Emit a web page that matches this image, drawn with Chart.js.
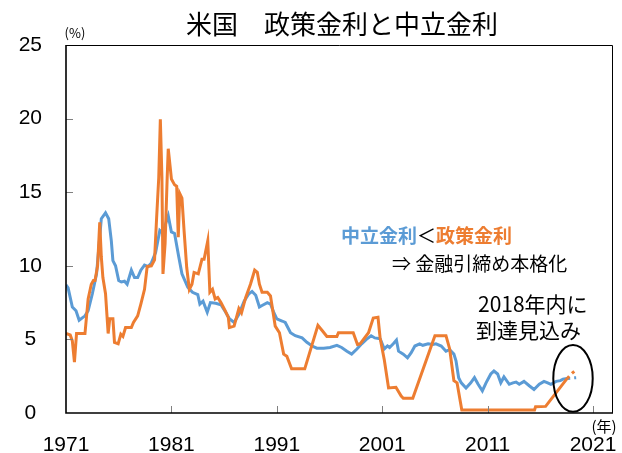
<!DOCTYPE html>
<html>
<head>
<meta charset="utf-8">
<script src="https://cdn.jsdelivr.net/npm/chart.js@4/dist/chart.umd.min.js"></script>
<style>
html,body{margin:0;padding:0;background:#fff;}
#wrap{width:622px;height:453px;position:relative;}
</style>
</head>
<body>
<div id="wrap"><canvas id="c"></canvas></div>
<script>
// ---- data ----
const neutralYears = [1971.0,1971.2,1971.6,1971.95,1972.25,1972.8,1973.1,1973.5,1973.9,1974.35,1974.75,1975.05,1975.3,1975.45,1975.7,1976.0,1976.25,1976.55,1976.8,1977.2,1977.5,1977.8,1978.1,1978.45,1978.8,1979.1,1979.5,1979.9,1980.2,1980.45,1980.7,1981.0,1981.3,1981.7,1982.0,1982.55,1983.0,1983.5,1983.7,1984.0,1984.4,1984.7,1985.2,1985.7,1986.15,1986.5,1986.95,1987.4,1987.9,1988.35,1988.65,1989.0,1989.35,1989.6,1990.1,1990.4,1990.7,1991.0,1991.5,1991.8,1992.3,1992.75,1993.4,1993.85,1994.35,1994.8,1995.45,1996.05,1996.7,1997.15,1997.65,1998.1,1998.6,1999.05,1999.5,1999.95,2000.3,2000.8,2001.2,2001.5,2001.7,2002.05,2002.35,2002.55,2003.0,2003.4,2003.75,2004.1,2004.55,2004.85,2005.35,2005.8,2006.1,2006.6,2007.05,2007.4,2007.8,2008.0,2008.25,2008.5,2008.95,2009.4,2009.75,2010.1,2010.5,2010.85,2011.3,2011.6,2011.95,2012.25,2012.55,2013.05,2013.4,2013.7,2014.0,2014.45,2014.95,2015.4,2015.9,2016.35,2016.7,2017.0,2017.5,2017.9,2018.15,2018.55];
const neutralRate = [8.7,8.5,7.2,6.95,6.3,6.6,6.95,8.1,9.45,13.2,13.6,13.2,11.7,10.35,10.0,9.0,8.9,8.95,8.75,9.7,9.2,9.2,9.7,10.05,9.95,10.2,10.9,12.4,12.2,12.85,13.4,12.3,12.2,10.6,9.45,8.55,8.2,8.05,7.4,7.6,6.85,7.5,7.45,7.35,6.85,6.4,6.15,6.7,7.6,8.1,8.25,8.0,7.2,7.3,7.5,7.4,6.85,6.4,6.25,6.15,5.45,5.25,5.1,4.8,4.55,4.4,4.4,4.45,4.6,4.45,4.2,4.0,4.35,4.7,5.0,5.25,5.1,5.05,4.35,4.55,4.45,4.7,4.95,4.2,4.0,3.75,4.1,4.55,4.7,4.6,4.7,4.65,4.7,4.55,4.2,4.3,4.0,3.55,2.4,2.05,1.7,2.05,2.4,1.95,1.5,2.05,2.65,2.85,2.65,2.05,2.45,1.95,2.05,2.1,1.95,2.15,1.85,1.6,1.95,2.15,2.05,1.95,2.15,2.2,2.3,2.35];
const policyYears = [1971.0,1971.4,1971.6,1971.8,1972.0,1972.8,1973.1,1973.4,1973.6,1973.75,1974.0,1974.2,1974.35,1974.5,1974.75,1975.0,1975.15,1975.45,1975.6,1975.95,1976.2,1976.4,1976.65,1977.2,1977.4,1977.8,1978.1,1978.45,1978.7,1979.1,1979.4,1979.6,1979.8,1979.95,1980.1,1980.2,1980.4,1980.6,1980.7,1980.9,1981.0,1981.3,1981.5,1981.65,1981.8,1982.0,1982.2,1982.45,1982.7,1982.95,1983.15,1983.55,1983.9,1984.1,1984.45,1984.65,1984.9,1985.15,1985.4,1985.7,1986.1,1986.4,1986.5,1986.95,1987.4,1987.65,1988.05,1988.5,1988.9,1989.15,1989.35,1989.6,1990.1,1990.4,1990.85,1991.25,1991.65,1991.95,1992.4,1993.65,1994.9,1995.3,1995.75,1996.7,1996.85,1998.25,1998.65,1998.9,1999.7,2000.15,2000.6,2000.8,2001.2,2001.6,2002.3,2002.8,2003.0,2003.9,2006.0,2007.05,2007.4,2007.8,2008.1,2008.55,2015.45,2015.55,2016.5,2018.55];
const policyRate = [5.4,5.3,4.9,3.45,5.4,5.4,7.75,8.75,9.0,9.0,10.0,12.95,10.6,9.2,8.1,5.4,6.4,6.4,4.8,4.7,5.35,5.2,5.8,5.8,6.15,6.6,7.4,8.4,9.95,10.0,10.4,13.3,16.0,19.95,16.0,9.45,11.5,16.0,17.95,16.6,15.9,15.5,15.4,11.95,14.9,14.6,12.4,9.9,8.4,8.75,9.55,9.45,10.45,10.45,11.7,8.2,8.4,7.75,7.85,7.5,6.95,6.5,5.8,5.9,7.1,6.8,7.85,8.75,9.7,9.55,8.75,8.2,8.2,7.95,5.9,5.45,4.0,3.85,3.0,3.0,5.95,5.6,5.2,5.2,5.45,5.45,4.65,4.7,5.45,6.45,6.5,5.1,3.6,1.7,1.75,1.15,1.0,1.0,5.25,5.25,4.35,2.2,2.05,0.2,0.2,0.42,0.45,2.35];
const neutralForecastYears = [2018.55, 2019.4];
const neutralForecastRate = [2.35, 2.4];
const policyForecastYears = [2018.55, 2019.0, 2019.35];
const policyForecastRate = [2.35, 2.7, 2.9];
const xTickYears = [1971, 1981, 1991, 2001, 2011, 2021];
const yTickValues = [0, 5, 10, 15, 20, 25];

const BLUE = '#5B9BD5';
const ORANGE = '#ED7D31';
const JP = '"Noto Sans CJK JP", "Noto Sans", sans-serif';

const pts = (xs, ys) => xs.map((x, i) => ({x: x, y: ys[i]}));

const overlay = {
  id: 'overlay',
  afterDraw(chart) {
    const {ctx, chartArea: a, scales: {x, y}} = chart;
    ctx.save();
    // inner tick marks
    ctx.strokeStyle = '#808080';
    ctx.lineWidth = 1;
    ctx.beginPath();
    xTickYears.slice(1).forEach(v => {
      const px = Math.round(x.getPixelForValue(v)) + 0.5;
      ctx.moveTo(px, a.bottom); ctx.lineTo(px, a.bottom - 7);
    });
    yTickValues.slice(1, -1).forEach(v => {
      const py = Math.round(y.getPixelForValue(v)) + 0.5;
      ctx.moveTo(a.left, py); ctx.lineTo(a.left + 7, py);
    });
    ctx.stroke();
    // frame
    ctx.strokeStyle = '#000';
    ctx.lineWidth = 1;
    ctx.beginPath();
    ctx.moveTo(a.left, a.top + 0.5); ctx.lineTo(a.right + 0.5, a.top + 0.5); ctx.lineTo(a.right + 0.5, a.bottom);
    ctx.stroke();
    ctx.lineWidth = 1.6;
    ctx.beginPath();
    ctx.moveTo(a.left, a.top); ctx.lineTo(a.left, a.bottom); ctx.lineTo(a.right + 1, a.bottom);
    ctx.stroke();
    // ellipse around the latest point
    const cx = x.getPixelForValue(2019.1), cy = y.getPixelForValue(2.35);
    const rx = x.getPixelForValue(2019.1 + 1.87) - cx;
    const ry = cy - y.getPixelForValue(2.35 + 2.27);
    ctx.lineWidth = 2;
    ctx.beginPath();
    ctx.ellipse(cx, cy, rx, ry, 0, 0, Math.PI * 2);
    ctx.stroke();
    // texts
    ctx.fillStyle = '#000';
    ctx.textBaseline = 'middle';
    ctx.textAlign = 'center';
    ctx.font = '26px ' + JP;
    ctx.fillText('米国　政策金利と中立金利', 342, 24);
    ctx.font = '13px ' + JP;
    ctx.fillText('(%)', 75, 33);
    ctx.font = '15px ' + JP;
    ctx.fillText('(年)', 604, 426);
    ctx.textAlign = 'left';
    // colored statement
    let tx = 341;
    ctx.font = 'bold 19px ' + JP;
    ctx.fillStyle = BLUE; ctx.fillText('中立金利', tx, 236); tx += ctx.measureText('中立金利').width;
    ctx.font = '19px ' + JP;
    ctx.fillStyle = '#000'; ctx.fillText('＜', tx, 236); tx += ctx.measureText('＜').width;
    ctx.font = 'bold 19px ' + JP;
    ctx.fillStyle = ORANGE; ctx.fillText('政策金利', tx, 236);
    ctx.fillStyle = '#000';
    ctx.font = '19px ' + JP;
    ctx.fillText('⇒ 金融引締め本格化', 392, 264);
    ctx.font = '21px ' + JP;
    ctx.fillText('2018年内に', 478, 304);
    ctx.fillText('到達見込み', 476, 330);
    ctx.restore();
  }
};

new Chart(document.getElementById('c'), {
  type: 'line',
  data: {
    datasets: [
      {label: '政策金利', data: pts(policyYears, policyRate), borderColor: ORANGE, borderWidth: 3, pointRadius: 0, order: 0, tension: 0},
      {label: '中立金利', data: pts(neutralYears, neutralRate), borderColor: BLUE, borderWidth: 3, pointRadius: 0, order: 1, tension: 0},
      {label: '政策金利見込み', data: pts(policyForecastYears, policyForecastRate), borderColor: ORANGE, borderWidth: 3, borderDash: [3, 4], pointRadius: 0, order: 0},
      {label: '中立金利見込み', data: pts(neutralForecastYears, neutralForecastRate), borderColor: BLUE, borderWidth: 3, borderDash: [3, 4], pointRadius: 0, order: 1}
    ]
  },
  options: {
    responsive: true,
    maintainAspectRatio: false,
    animation: false,
    layout: {padding: {top: 45, right: 10, left: 0, bottom: 0}},
    plugins: {legend: {display: false}, tooltip: {enabled: false}, title: {display: false}},
    scales: {
      x: {
        type: 'linear', min: 1971, max: 2022.8,
        grid: {display: false, drawTicks: false},
        border: {display: false},
        afterBuildTicks: s => { s.ticks = xTickYears.map(v => ({value: v})); },
        afterFit: s => { s.height = 40; s.paddingLeft = 0; s.paddingRight = 0; },
        ticks: {autoSkip: false, maxRotation: 0, padding: 20, color: '#000',
          font: {family: '"Liberation Sans", Arial, sans-serif', size: 21},
          callback: v => String(v)}
      },
      y: {
        min: 0, max: 25,
        grid: {display: false, drawTicks: false},
        border: {display: false},
        afterBuildTicks: s => { s.ticks = yTickValues.map(v => ({value: v})); },
        afterFit: s => { s.width = 66; s.paddingTop = 0; s.paddingBottom = 0; },
        ticks: {padding: 24, crossAlign: 'center', color: '#000',
          font: {family: '"Liberation Sans", Arial, sans-serif', size: 21},
          callback: v => String(v)}
      }
    }
  },
  plugins: [overlay]
});
</script>
</body>
</html>
